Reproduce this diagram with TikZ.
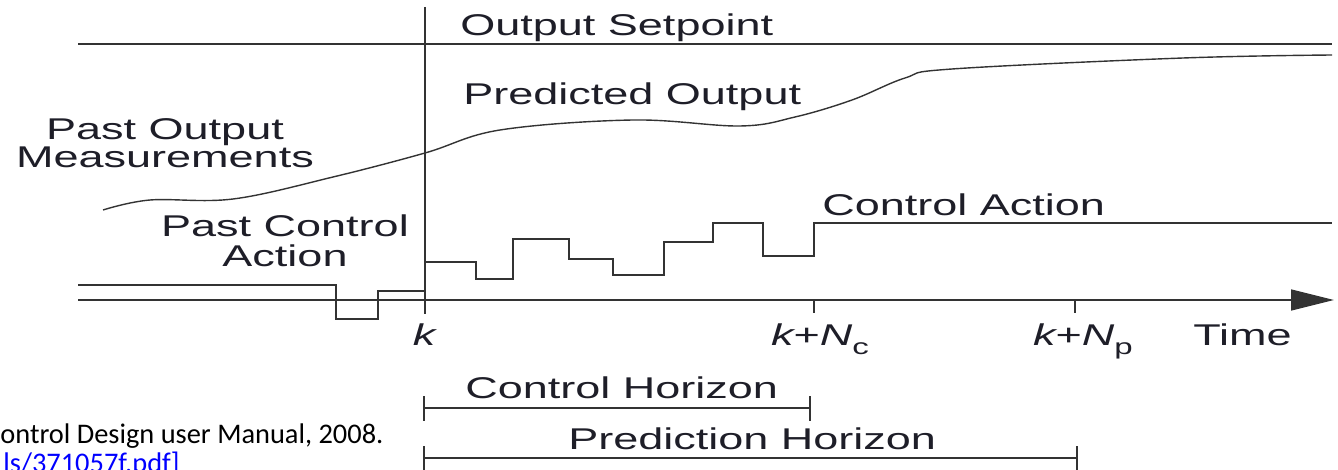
\documentclass[tikz,border=0pt]{standalone}
\usepackage{fontspec}
\setmainfont{Liberation Sans}
\newfontfamily\figfont[FakeStretch=1.5]{Liberation Sans}
\newfontfamily\notefont{Carlito}
\usetikzlibrary{arrows.meta}
\definecolor{ink}{HTML}{1E1E28}
\definecolor{rule}{HTML}{333333}
\definecolor{linkblue}{HTML}{0000FF}
\newcommand{\subc}[1]{\raisebox{-0.3em}{\fontsize{11}{12}\selectfont #1}}
\begin{document}
\begin{tikzpicture}[x=0.5pt,y=-0.5pt,
  lbl/.style={inner sep=0pt, text=ink, font=\figfont\fontsize{15}{17}\selectfont},
  note/.style={inner sep=0pt, text=black, font=\notefont\fontsize{14.2}{16}\selectfont},
  ln/.style={draw=rule, line width=0.85pt},
  crv/.style={draw=rule, line width=0.7pt},
  axisarrow/.style={-{Triangle[length=21.5pt,width=10.5pt]}}]
\useasboundingbox (0,0) rectangle (1338,470);
\clip (0,0) rectangle (1338,470);

% main axes
\coordinate (ktop) at (425,7);
\coordinate (kbot) at (425,314);
\draw[ln] (ktop) -- (kbot);
\coordinate (spL) at (78,44);
\coordinate (spR) at (1332,44);
\draw[ln] (spL) -- (spR);
\coordinate (axL) at (78,300);
\coordinate (axR) at (1334,300);
\draw[ln, axisarrow] (axL) -- (axR);

% ticks
\coordinate (ncT) at (814,300);
\coordinate (ncB) at (814,313);
\draw[ln] (ncT) -- (ncB);
\coordinate (npT) at (1075,300);
\coordinate (npB) at (1075,313);
\draw[ln] (npT) -- (npB);

% past control action
\draw[ln] (78,285) -- (336,285) -- (336,319) -- (378,319) -- (378,291) -- (425,291);

% future control action
\draw[ln] (425,262) -- (476,262) -- (476,279) -- (513,279) -- (513,239) -- (569,239)
  -- (569,259) -- (613,259) -- (613,275) -- (664,275) -- (664,242) -- (713,242)
  -- (713,223) -- (763,223) -- (763,256) -- (814,256) -- (814,223) -- (1332,223);

% output curve
\draw[crv] plot[smooth, tension=0.6] coordinates {(103,210) (150,200) (233,199) (333,177)
  (425,153) (500,130) (633,120) (740,126) (795,117) (852,100) (905,78) (952,69)
  (1183,58) (1332,55)};

% horizons
\coordinate (chL) at (424,408);
\coordinate (chR) at (810,408);
\draw[ln] (chL) -- (chR);
\draw[ln] (424,396) -- (424,421);
\draw[ln] (810,396) -- (810,421);
\coordinate (phL) at (424,458);
\coordinate (phR) at (1077,458);
\draw[ln] (phL) -- (phR);
\draw[ln] (424,446) -- (424,480);
\draw[ln] (1077,446) -- (1077,480);

% labels
\node[lbl, anchor=base west] (setpt) at (460,36) {Output Setpoint};
\node[lbl, anchor=base west] (pred) at (463,105) {Predicted Output};
\node[lbl, anchor=base] (pastout1) at (165,140) {Past Output};
\node[lbl, anchor=base] (pastout2) at (165,168) {Measurements};
\node[lbl, anchor=base] (pastca1) at (285,237) {Past Control};
\node[lbl, anchor=base] (pastca2) at (285,266) {Action};
\node[lbl, anchor=base west] (ca) at (822,216) {Control Action};
\node[lbl, anchor=base] (klbl) at (424,345) {\itshape k};
\node[lbl, anchor=base] (nclbl) at (820,345) {{\itshape k}+{\itshape N}\subc{c}};
\node[lbl, anchor=base] (nplbl) at (1083,345) {{\itshape k}+{\itshape N}\subc{p}};
\node[lbl, anchor=base west] (time) at (1193,345) {Time};
\node[lbl, anchor=base west] (chlbl) at (465,398) {Control Horizon};
\node[lbl, anchor=base west] (phlbl) at (568,449) {Prediction Horizon};

% footnote fragments
\node[note, anchor=base west] (fn1) at (0,443) {ontrol Design user Manual, 2008.};
\node[note, text=linkblue, anchor=base east] (fn2) at (180,472) {ls/371057f.pdf]};
\end{tikzpicture}
\end{document}
